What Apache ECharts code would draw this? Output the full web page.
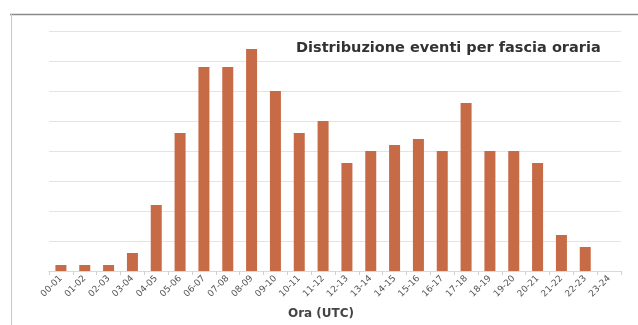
<!DOCTYPE html>
<html>
<head>
<meta charset="utf-8">
<style>
  html, body { margin: 0; padding: 0; background: #ffffff; }
  #chart { width: 638px; height: 325px; }
</style>
<script src="https://cdn.jsdelivr.net/npm/echarts@6/dist/echarts.min.js"></script>
</head>
<body>
<div id="chart"></div>
<script>
// Hourly slots (UTC)
const fasce = [
  '00-01', '01-02', '02-03', '03-04', '04-05', '05-06', '06-07', '07-08',
  '08-09', '09-10', '10-11', '11-12', '12-13', '13-14', '14-15', '15-16',
  '16-17', '17-18', '18-19', '19-20', '20-21', '21-22', '22-23', '23-24'
];
// Number of events in each slot
const eventi = [
  1, 1, 1, 3, 11, 23, 34, 34,
  37, 30, 23, 25, 18, 20, 21, 22,
  20, 28, 20, 20, 18, 6, 4, 0
];

const chart = echarts.init(document.getElementById('chart'), null, { renderer: 'canvas' });

chart.setOption({
  animation: false,
  backgroundColor: '#ffffff',
  textStyle: { fontFamily: '"DejaVu Sans", sans-serif' },
  title: {
    text: 'Distribuzione eventi per fascia oraria',
    left: 291,
    top: 36,
    textStyle: { fontSize: 14.5, fontWeight: 'bold', color: '#333333', fontFamily: '"DejaVu Sans", sans-serif' }
  },
  grid: { left: 49, right: 17, top: 31, bottom: 54, containLabel: false },
  xAxis: {
    type: 'category',
    data: fasce,
    name: 'Ora (UTC)',
    nameLocation: 'middle',
    nameGap: 37,
    nameTextStyle: {
      fontSize: 12, fontWeight: 'bold', color: '#444444',
      fontFamily: '"DejaVu Sans", sans-serif',
      padding: [0, 28, 0, 0]
    },
    axisLine: { lineStyle: { color: '#d9d9d9', width: 1 } },
    axisTick: { show: true, length: 4, lineStyle: { color: '#d0d0d0' } },
    axisLabel: { rotate: 45, interval: 0, fontSize: 9, color: '#555555', margin: 6 }
  },
  yAxis: {
    type: 'value',
    min: 0,
    max: 40,
    interval: 5,
    axisLabel: { show: false },
    axisLine: { show: false },
    axisTick: { show: false },
    splitLine: { lineStyle: { color: '#e4e4e4', width: 1 } }
  },
  series: [{
    type: 'bar',
    data: eventi,
    barWidth: 11,
    itemStyle: { color: '#c76b47' }
  }],
  graphic: [
    { type: 'line', shape: { x1: 10, y1: 14.5, x2: 638, y2: 14.5 }, style: { stroke: '#8a8a8a', lineWidth: 1.5 } },
    { type: 'line', shape: { x1: 11.5, y1: 14, x2: 11.5, y2: 325 }, style: { stroke: '#c8c8c8', lineWidth: 1 } }
  ]
});
</script>
</body>
</html>
